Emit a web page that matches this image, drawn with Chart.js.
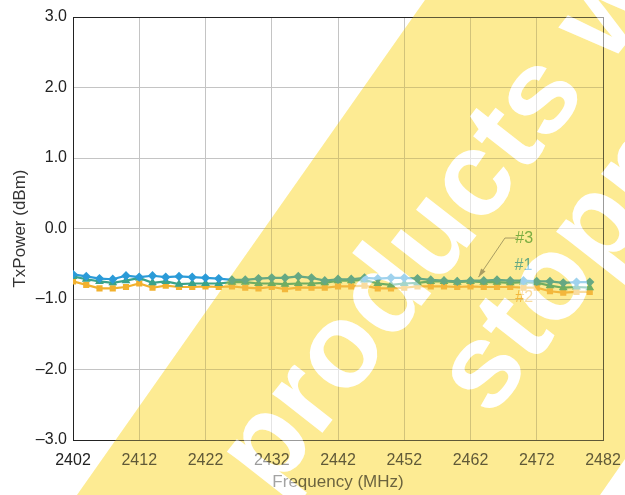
<!DOCTYPE html>
<html><head><meta charset="utf-8">
<script src="https://cdn.jsdelivr.net/npm/chart.js@4.4.1/dist/chart.umd.min.js"></script>
<style>html,body{margin:0;padding:0;background:#fff;} #wrap{width:625px;height:495px;}</style>
</head><body><div id="wrap"><canvas id="c" width="625" height="495"></canvas></div>
<script>
const frequencies = [2402,2404,2406,2408,2410,2412,2414,2416,2418,2420,2422,2424,2426,2428,2430,2432,2434,2436,2438,2440,2442,2444,2446,2448,2450,2452,2454,2456,2458,2460,2462,2464,2466,2468,2470,2472,2474,2476,2478,2480];
const seriesNames = ['#1','#2','#3'];
const txPower1 = [-0.65,-0.68,-0.71,-0.72,-0.67,-0.69,-0.67,-0.69,-0.68,-0.69,-0.70,-0.71,-0.73,-0.73,-0.71,-0.70,-0.70,-0.68,-0.70,-0.74,-0.72,-0.72,-0.70,-0.71,-0.70,-0.70,-0.71,-0.73,-0.74,-0.75,-0.74,-0.74,-0.73,-0.74,-0.74,-0.75,-0.75,-0.77,-0.76,-0.76];
const txPower2 = [-0.75,-0.80,-0.85,-0.85,-0.83,-0.78,-0.84,-0.81,-0.83,-0.83,-0.82,-0.83,-0.82,-0.84,-0.85,-0.83,-0.86,-0.84,-0.84,-0.84,-0.82,-0.82,-0.81,-0.85,-0.85,-0.84,-0.82,-0.82,-0.82,-0.83,-0.82,-0.83,-0.83,-0.83,-0.84,-0.84,-0.89,-0.91,-0.90,-0.90];
const txPower3 = [-0.68,-0.72,-0.75,-0.77,-0.74,-0.70,-0.77,-0.75,-0.79,-0.78,-0.78,-0.78,-0.76,-0.76,-0.78,-0.78,-0.79,-0.78,-0.78,-0.77,-0.74,-0.74,-0.73,-0.78,-0.80,-0.78,-0.77,-0.75,-0.75,-0.76,-0.75,-0.76,-0.76,-0.77,-0.76,-0.77,-0.81,-0.84,-0.83,-0.84];
const xTickValues = [2402,2412,2422,2432,2442,2452,2462,2472,2482];
const yTickValues = [-3,-2,-1,0,1,2,3];
const watermarkLines = ['products will be','stopped'];

const FONT = '"Liberation Sans", Arial, sans-serif';
function pts(arr){ return frequencies.map((f,i)=>({x:f,y:arr[i]})); }

function bandPath(c){
  c.beginPath(); c.moveTo(425,0); c.lineTo(625,0); c.lineTo(625,459); c.lineTo(600,495); c.lineTo(77,495); c.closePath();
}
function drawWords(c){
  c.save(); c.translate(272,497); c.rotate(-52*Math.PI/180);
  c.font = 'bold 120px ' + FONT; c.textBaseline = 'alphabetic'; c.textAlign='left';
  c.fillText(watermarkLines[0],0,0);
  c.fillText(watermarkLines[1],196,124);
  c.restore();
}

const bgPlugin = {
  id:'bg',
  beforeDraw(chart){ const c=chart.ctx; c.save(); c.fillStyle='#fff'; c.fillRect(0,0,chart.width,chart.height); c.restore(); },
  beforeDatasetsDraw(chart){
    const a=chart.chartArea, c=chart.ctx; c.save(); c.strokeStyle='#222'; c.lineWidth=1;
    c.strokeRect(Math.round(a.left)+0.5, Math.round(a.top)+0.5, Math.round(a.right-a.left), Math.round(a.bottom-a.top)); c.restore();
  },
  afterDatasetsDraw(chart){
    const c=chart.ctx, x=chart.scales.x, y=chart.scales.y;
    c.save();
    c.strokeStyle='#8a8a8a'; c.lineWidth=1;
    const x0=x.getPixelForValue(2469.0), x1=x.getPixelForValue(2467.2), x2=x.getPixelForValue(2463.2);
    const y0=y.getPixelForValue(-0.135), y2=y.getPixelForValue(-0.69);
    c.beginPath(); c.moveTo(x0,y0); c.lineTo(x1,y0); c.lineTo(x2,y2); c.stroke();
    const ang=Math.atan2(y2-y0,x2-x1);
    c.fillStyle='#8a8a8a'; c.beginPath(); c.moveTo(x2,y2);
    c.lineTo(x2-9*Math.cos(ang-0.3), y2-9*Math.sin(ang-0.3));
    c.lineTo(x2-9*Math.cos(ang+0.3), y2-9*Math.sin(ang+0.3)); c.closePath(); c.fill();
    c.font='16px '+FONT; c.textAlign='center'; c.textBaseline='middle';
    c.fillStyle='#4aa33a'; c.fillText(seriesNames[2], x.getPixelForValue(2470.1), y.getPixelForValue(-0.15));
    c.fillStyle='#2b9bd8'; c.fillText(seriesNames[0], x.getPixelForValue(2470.0), y.getPixelForValue(-0.53));
    c.fillStyle='#f2b12e'; c.fillText(seriesNames[1], x.getPixelForValue(2470.1), y.getPixelForValue(-0.985));
    c.restore();
  },
  afterDraw(chart){
    const W=chart.width,H=chart.height,r=chart.currentDevicePixelRatio||1;
    const o=document.createElement('canvas'); o.width=W*r; o.height=H*r;
    const oc=o.getContext('2d'); oc.scale(r,r);
    oc.fillStyle='rgb(253,235,147)'; bandPath(oc); oc.fill();
    oc.globalCompositeOperation='destination-out'; oc.fillStyle='#000'; drawWords(oc);
    const c=chart.ctx; c.save(); c.setTransform(1,0,0,1,0,0);
    c.globalCompositeOperation='multiply'; c.drawImage(o,0,0);
    c.globalCompositeOperation='source-over'; c.globalAlpha=0.28; c.drawImage(o,0,0);
    c.restore();
    c.save(); bandPath(c); c.clip(); c.fillStyle='rgba(255,255,255,0.55)'; drawWords(c); c.restore();
  }
};

new Chart(document.getElementById('c'), {
  type:'line',
  data:{ datasets:[
    {label:seriesNames[0], data:pts(txPower1), borderColor:'#2b9bd8', backgroundColor:'#2b9bd8', pointStyle:'rectRot', pointRadius:3.1, borderWidth:2.2, order:1},
    {label:seriesNames[2], data:pts(txPower3), borderColor:'#3aa38a', backgroundColor:'#3aa38a', pointStyle:'triangle', pointRadius:2.9, borderWidth:2.2, order:2},
    {label:seriesNames[1], data:pts(txPower2), borderColor:'#f2b12e', backgroundColor:'#f2b12e', pointStyle:'rect', pointRadius:2.8, borderWidth:2.2, order:3}
  ]},
  options:{
    responsive:false, animation:false,
    layout:{padding:{top:17,right:22,left:0,bottom:0}},
    plugins:{legend:{display:false}, tooltip:{enabled:false}},
    elements:{line:{tension:0}, point:{borderWidth:0}},
    scales:{
      x:{ type:'linear', min:2402, max:2482,
        afterBuildTicks:s=>{ s.ticks = xTickValues.map(v=>({value:v})); },
        afterFit:s=>{ s.height=55; s.paddingRight=0; s.paddingLeft=0; },
        grid:{color:'#c4c4c4', lineWidth:1, drawTicks:false},
        border:{color:'#222', width:1},
        ticks:{font:{family:FONT,size:16}, color:'#222', padding:11, maxRotation:0, autoSkip:false, callback:v=>String(v)},
        title:{display:true, text:'Frequency (MHz)', font:{family:FONT,size:17}, color:'#333', padding:{top:0,bottom:2}}
      },
      y:{ min:-3, max:3,
        afterBuildTicks:s=>{ s.ticks = yTickValues.map(v=>({value:v})); },
        afterFit:s=>{ s.width=73; s.paddingTop=0; s.paddingBottom=0; },
        grid:{color:'#c4c4c4', lineWidth:1, drawTicks:false},
        border:{color:'#222', width:1},
        ticks:{font:{family:FONT,size:16}, color:'#222', padding:6, callback:v=>(v<0?'\u2013':'')+Math.abs(v).toFixed(1)},
        title:{display:true, text:'TxPower (dBm)', font:{family:FONT,size:17}, color:'#333', padding:{top:10,bottom:0}}
      }
    }
  },
  plugins:[bgPlugin]
});
</script></body></html>
